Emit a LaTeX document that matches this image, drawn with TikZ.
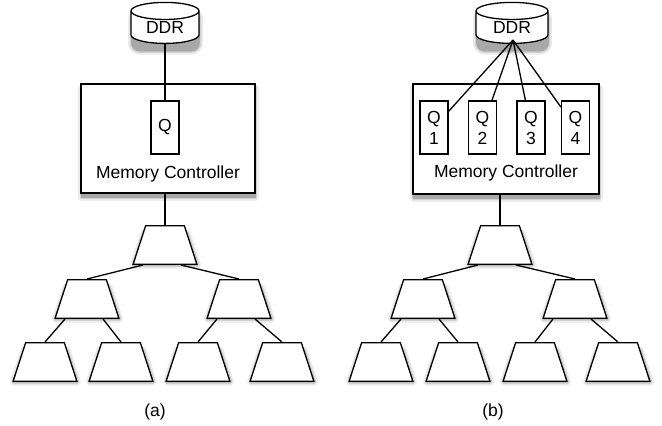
\documentclass[tikz,border=0pt]{standalone}
\usepackage{fontspec}
\setmainfont{Liberation Sans}
\usetikzlibrary{shapes.geometric,calc}
\begin{document}
\begin{tikzpicture}[x=1pt,y=-1pt,line width=1.3pt,
  font=\fontsize{17.5}{21}\selectfont,
  sha/.style={draw=black!8,fill=black!8,line width=7pt,line join=round},
  shb/.style={draw=black!18,fill=black!18,line width=3.5pt,line join=round},
  shc/.style={draw=black!34,fill=black!34,line width=0.6pt,line join=round},
  tzsh/.pic={
    \filldraw[sha] (-31.5,20) -- (-21,-12) -- (22,-12) -- (32.5,20) -- cycle;
    \filldraw[shb] (-31.5,20) -- (-21,-12) -- (22,-12) -- (32.5,20) -- cycle;
    \filldraw[shc] (-31.5,20) -- (-21,-12) -- (22,-12) -- (32.5,20) -- cycle;},
  ddrbox/.style={cylinder,shape border rotate=90,aspect=0.45,minimum width=68pt,minimum height=41pt,inner sep=0pt,draw,fill=white},
  mcbox/.style={rectangle,draw,fill=white,inner sep=0pt},
  qbox/.style={rectangle,draw,fill=white,minimum width=28pt,minimum height=53pt,inner sep=0pt,align=center},
  tz/.style={trapezium,trapezium left angle=72,trapezium right angle=72,minimum width=64pt,minimum height=32pt,inner sep=2pt,draw,fill=white},
  txt/.style={inner sep=0pt}]
\useasboundingbox (0,0) rectangle (662,426);

% ---------- shadows (drawn first, below the shapes) ----------
\filldraw[sha,rounded corners=8pt] (131.5,11) rectangle (199.5,51);
\filldraw[shb,rounded corners=8pt] (131.5,11) rectangle (199.5,51);
\filldraw[shc,rounded corners=8pt] (131.5,11) rectangle (199.5,51);
\filldraw[sha,rounded corners=8pt] (476.5,11) rectangle (548.5,51);
\filldraw[shb,rounded corners=8pt] (476.5,11) rectangle (548.5,51);
\filldraw[shc,rounded corners=8pt] (476.5,11) rectangle (548.5,51);
\filldraw[sha] (81.5,88) rectangle (255.5,197);
\filldraw[shb] (81.5,88) rectangle (255.5,197);
\filldraw[shc] (81.5,88) rectangle (255.5,197);
\filldraw[sha] (413.5,88) rectangle (599.5,198);
\filldraw[shb] (413.5,88) rectangle (599.5,198);
\filldraw[shc] (413.5,88) rectangle (599.5,198);
\foreach \cx/\cy in {165/245,87/299,239/299,45/362,121/362,198/362,282/362,
                     500/245,423/299,575/299,381/362,458/362,535/362,618/362}
  {\pic at (\cx,\cy) {tzsh};}

% ---------- panel (a) ----------
\node[ddrbox] (ddrA) at (165,27.5) {DDR};
\node[mcbox,minimum width=174pt,minimum height=109pt] (mcA) at (168,138.5) {};
\node[qbox] (qA) at (165,127.5) {Q};
\node[txt] (mctA) at (168,174) {Memory Controller};
\draw (ddrA.south) -- (qA.north);

\node[tz] (rA) at (165,245) {};
\node[tz] (aL) at (87,299) {};
\node[tz] (aR) at (239,299) {};
\node[tz] (a1) at (45,362) {};
\node[tz] (a2) at (121,362) {};
\node[tz] (a3) at (198,362) {};
\node[tz] (a4) at (282,362) {};
\draw (rA.north |- mcA.south) -- (rA.north);
\draw ([xshift=-22pt]rA.south) -- (aL.north);
\draw ([xshift=16pt]rA.south) -- (aR.north);
\draw ([xshift=-22pt]aL.south) -- (a1.north);
\draw ([xshift=16pt]aL.south) -- (a2.north);
\draw ([xshift=-22pt]aR.south) -- (a3.north);
\draw ([xshift=16pt]aR.south) -- (a4.north);
\node[txt] (labA) at (155,412) {(a)};

% ---------- panel (b) ----------
\node[ddrbox,minimum width=72pt] (ddrB) at (512,27.5) {DDR};
\node[mcbox,minimum width=186pt,minimum height=110pt] (mcB) at (506,139) {};
\node[qbox] (q1) at (434,127.5) {Q\\1};
\node[qbox] (q2) at (482.5,127.5) {Q\\2};
\node[qbox] (q3) at (531,127.5) {Q\\3};
\node[qbox] (q4) at (575.5,127.5) {Q\\4};
\node[txt] (mctB) at (506,173) {Memory Controller};
\coordinate (hub) at (513,40);
\draw (hub) -- (q1);
\draw (hub) -- (q2);
\draw (hub) -- (q3);
\draw (hub) -- (q4);

\node[tz] (rB) at (500,245) {};
\node[tz] (bL) at (423,299) {};
\node[tz] (bR) at (575,299) {};
\node[tz] (b1) at (381,362) {};
\node[tz] (b2) at (458,362) {};
\node[tz] (b3) at (535,362) {};
\node[tz] (b4) at (618,362) {};
\draw (rB.north |- mcB.south) -- (rB.north);
\draw ([xshift=-22pt]rB.south) -- (bL.north);
\draw ([xshift=16pt]rB.south) -- (bR.north);
\draw ([xshift=-22pt]bL.south) -- (b1.north);
\draw ([xshift=16pt]bL.south) -- (b2.north);
\draw ([xshift=-22pt]bR.south) -- (b3.north);
\draw ([xshift=16pt]bR.south) -- (b4.north);
\node[txt] (labB) at (493,412) {(b)};
\end{tikzpicture}
\end{document}
